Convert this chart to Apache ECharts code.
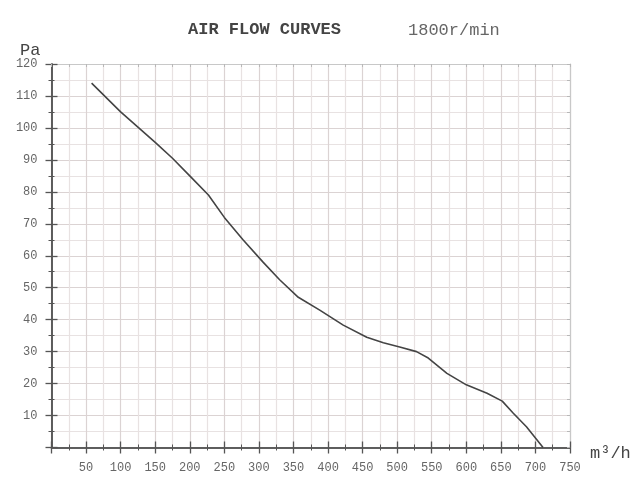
<!DOCTYPE html>
<html>
<head>
<meta charset="utf-8">
<script src="https://cdn.jsdelivr.net/npm/echarts@6/dist/echarts.min.js"></script>
<style>html,body{margin:0;padding:0;background:#fff}#c{width:643px;height:478px}</style>
</head>
<body>
<div id="c"></div>
<script>
// Air flow (m³/h) vs static pressure (Pa)
var flow     = [58, 100, 150, 175, 200, 227, 250, 277, 306, 330, 357, 388, 422, 456, 480, 505, 528, 545, 572, 600, 630, 652, 668, 687, 711];
var pressure = [114, 105, 95.5, 90.5, 85, 79, 72, 65, 58, 52.5, 47, 43, 38.3, 34.5, 32.8, 31.4, 30, 28, 23.2, 19.6, 17, 14.5, 10.7, 6.5, 0];
var titleText = 'AIR FLOW CURVES';
var speedText = '1800r/min';
var yUnit = 'Pa';
var xUnit = 'm³/h';

var pts = flow.map(function (x, i) { return [x, pressure[i]]; });
var mono = '"Liberation Mono", "DejaVu Sans Mono", monospace';
var gridCol = '#dbd3d3';
var minorCol = '#e8e2e2';
var axisCol = '#555';

function xAx(pos, inside, main) {
  return {
    type: 'value', position: pos, min: 0, max: 750, interval: 50,
    axisLine: { show: true, onZero: false, lineStyle: { color: main ? axisCol : '#c8c8c8', width: main ? 1.5 : 1.2 } },
    axisTick: { show: true, inside: inside, length: main ? 6 : 3, lineStyle: { color: main ? axisCol : '#b8b8b8', width: main ? 1.3 : 1 } },
    minorTick: { show: true, splitNumber: 2, length: 3, lineStyle: { color: main ? axisCol : '#b8b8b8', width: 1 } },
    axisLabel: { show: main && !inside, showMinLabel: false, margin: 14, color: '#666', fontFamily: mono, fontSize: 12 },
    splitLine: { show: main && !inside, lineStyle: { color: gridCol, width: 1.2 } },
    minorSplitLine: { show: main && !inside, lineStyle: { color: minorCol, width: 1.2 } }
  };
}
function yAx(pos, inside, main) {
  return {
    type: 'value', position: pos, min: 0, max: 120, interval: 10,
    axisLine: { show: true, onZero: false, lineStyle: { color: main ? axisCol : '#c8c8c8', width: main ? 1.5 : 1.2 } },
    axisTick: { show: true, inside: inside, length: main ? 6 : 3, lineStyle: { color: main ? axisCol : '#b8b8b8', width: main ? 1.3 : 1 } },
    minorTick: { show: true, splitNumber: 2, length: 3, lineStyle: { color: main ? axisCol : '#b8b8b8', width: 1 } },
    axisLabel: { show: main && !inside, showMinLabel: false, margin: 14, color: '#666', fontFamily: mono, fontSize: 12 },
    splitLine: { show: main && !inside, lineStyle: { color: gridCol, width: 1.2 } },
    minorSplitLine: { show: main && !inside, lineStyle: { color: minorCol, width: 1.2 } }
  };
}

var chart = echarts.init(document.getElementById('c'), null, { renderer: 'canvas' });
chart.setOption({
  backgroundColor: '#fff',
  animation: false,
  title: [
    { text: titleText, left: 183, top: 16, textStyle: { fontFamily: mono, fontSize: 17, fontWeight: 'bold', color: '#444' } },
    { text: speedText, left: 403, top: 17, textStyle: { fontFamily: mono, fontSize: 17, fontWeight: 'normal', color: '#666' } },
    { text: yUnit, left: 15, top: 37, textStyle: { fontFamily: mono, fontSize: 17, fontWeight: 'normal', color: '#444' } },
    { text: xUnit, left: 585, top: 440, textStyle: { fontFamily: mono, fontSize: 17, fontWeight: 'normal', color: '#444' } }
  ],
  grid: { left: 51.5, right: 73, top: 64, bottom: 30.5, containLabel: false },
  xAxis: [xAx('bottom', false, true), xAx('bottom', true, true), xAx('top', true, false)],
  yAxis: [yAx('left', false, true), yAx('left', true, true), yAx('right', true, false)],
  series: [{
    type: 'line', xAxisIndex: 0, yAxisIndex: 0, data: pts, showSymbol: false, symbol: 'none',
    lineStyle: { color: '#444', width: 1.6 }, z: 5
  }]
});
</script>
</body>
</html>
